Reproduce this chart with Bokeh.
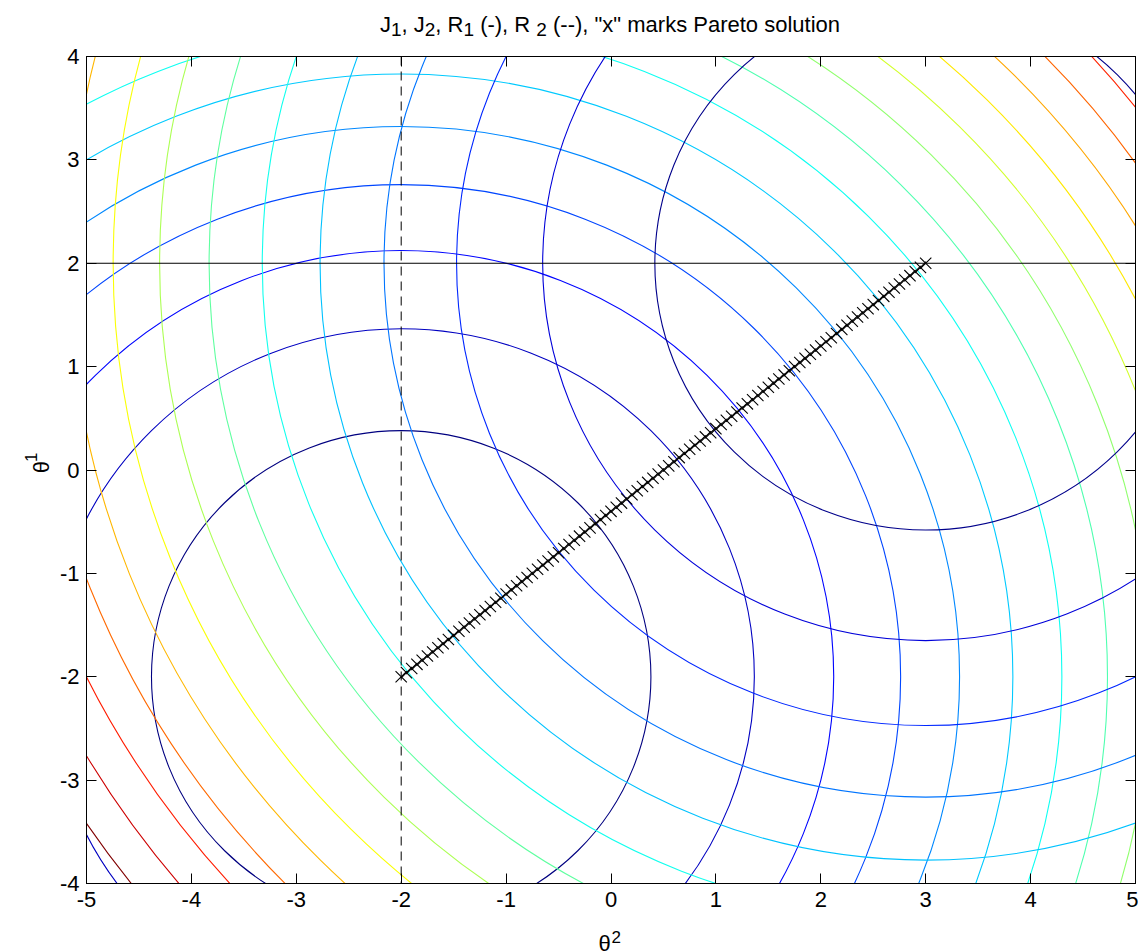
import numpy as np
from bokeh.plotting import figure
from bokeh.models import Span, FixedTicker, LinearAxis, Range1d
from bokeh.layouts import column, row
from bokeh.core.properties import value
from bokeh.embed import file_html
from bokeh.resources import INLINE

# ---------------- data ----------------
xticks = [-5, -4, -3, -2, -1, 0, 1, 2, 3, 4, 5]
xtick_labels = ["-5", "-4", "-3", "-2", "-1", "0", "1", "2", "3", "4", "5"]
yticks = [-4, -3, -2, -1, 0, 1, 2, 3, 4]
ytick_labels = ["-4", "-3", "-2", "-1", "0", "1", "2", "3", "4"]

# contour centres (theta2, theta1) and contour levels (squared radii)
j1_center = [-2.0, -2.0]
j2_center = [3.0, 2.0]
j1_levels = [5.667, 11.333, 17.0, 22.667, 28.333, 34.0, 39.667,
             45.333, 51.0, 56.667, 62.333, 68.0, 73.667, 79.333]
j2_levels = [6.667, 13.333, 20.0, 26.667, 33.333, 40.0, 46.667,
             53.333, 60.0, 66.667, 73.333, 80.0, 86.667, 93.333]

r1_theta1 = 2.0    # R1: solid horizontal line
r2_theta2 = -2.0   # R2: dashed vertical line

pareto_theta2 = [-2.00, -1.95, -1.90, -1.85, -1.80, -1.75, -1.70, -1.65, -1.60, -1.55,
                 -1.50, -1.45, -1.40, -1.35, -1.30, -1.25, -1.20, -1.15, -1.10, -1.05,
                 -1.00, -0.95, -0.90, -0.85, -0.80, -0.75, -0.70, -0.65, -0.60, -0.55,
                 -0.50, -0.45, -0.40, -0.35, -0.30, -0.25, -0.20, -0.15, -0.10, -0.05,
                 0.00, 0.05, 0.10, 0.15, 0.20, 0.25, 0.30, 0.35, 0.40, 0.45,
                 0.50, 0.55, 0.60, 0.65, 0.70, 0.75, 0.80, 0.85, 0.90, 0.95,
                 1.00, 1.05, 1.10, 1.15, 1.20, 1.25, 1.30, 1.35, 1.40, 1.45,
                 1.50, 1.55, 1.60, 1.65, 1.70, 1.75, 1.80, 1.85, 1.90, 1.95,
                 2.00, 2.05, 2.10, 2.15, 2.20, 2.25, 2.30, 2.35, 2.40, 2.45,
                 2.50, 2.55, 2.60, 2.65, 2.70, 2.75, 2.80, 2.85, 2.90, 2.95,
                 3.00]
pareto_theta1 = [-2.00, -1.96, -1.92, -1.88, -1.84, -1.80, -1.76, -1.72, -1.68, -1.64,
                 -1.60, -1.56, -1.52, -1.48, -1.44, -1.40, -1.36, -1.32, -1.28, -1.24,
                 -1.20, -1.16, -1.12, -1.08, -1.04, -1.00, -0.96, -0.92, -0.88, -0.84,
                 -0.80, -0.76, -0.72, -0.68, -0.64, -0.60, -0.56, -0.52, -0.48, -0.44,
                 -0.40, -0.36, -0.32, -0.28, -0.24, -0.20, -0.16, -0.12, -0.08, -0.04,
                 0.00, 0.04, 0.08, 0.12, 0.16, 0.20, 0.24, 0.28, 0.32, 0.36,
                 0.40, 0.44, 0.48, 0.52, 0.56, 0.60, 0.64, 0.68, 0.72, 0.76,
                 0.80, 0.84, 0.88, 0.92, 0.96, 1.00, 1.04, 1.08, 1.12, 1.16,
                 1.20, 1.24, 1.28, 1.32, 1.36, 1.40, 1.44, 1.48, 1.52, 1.56,
                 1.60, 1.64, 1.68, 1.72, 1.76, 1.80, 1.84, 1.88, 1.92, 1.96,
                 2.00]

# title pieces: (text, is_subscript)
title_pieces = [("J", False), ("1", True), (", J", False), ("2", True), (", R", False),
                ("1", True), (" (-), R ", False), ("2", True),
                (' (--), "x" marks Pareto solution', False)]
xlabel_pieces = ["θ", "2"]
ylabel_pieces = ["θ", "1"]

# ---------------- styling / layout ----------------
FONT = "Liberation Sans"
TOTAL_W, TOTAL_H = 1138, 952
TITLE_H = 39
XLAB_H = 36
YLAB_W = 56
MAIN_W = TOTAL_W - YLAB_W
MAIN_H = TOTAL_H - TITLE_H - XLAB_H
FRAME_L, FRAME_R, FRAME_T, FRAME_B = 84, 1135, 56, 883   # page pixels

# Arial / Liberation Sans advance widths (per 1000 em)
AW = {"J": 500, ",": 278, " ": 278, "R": 722, "(": 333, ")": 333, "-": 333, '"': 355,
      "x": 500, "m": 833, "a": 556, "r": 333, "k": 500, "s": 500, "P": 667, "e": 556,
      "t": 278, "o": 556, "l": 222, "u": 556, "i": 222, "n": 556}
for d in "0123456789":
    AW[d] = 556


def tw(s, fs):
    return sum(AW.get(c, 556) for c in s) / 1000.0 * fs


def jet(t):
    t = min(max(t, 0.0), 1.0)
    r = min(max(1.5 - abs(4 * t - 3), 0), 1)
    g = min(max(1.5 - abs(4 * t - 2), 0), 1)
    b = min(max(1.5 - abs(4 * t - 1), 0), 1)
    return "#%02x%02x%02x" % (int(round(r * 255)), int(round(g * 255)), int(round(b * 255)))


def text_fig(w, h, flip=True):
    f = figure(width=w, height=h, x_range=Range1d(0, w),
               y_range=Range1d(h, 0) if flip else Range1d(0, h),
               output_backend="svg", toolbar_location=None, min_border=0,
               min_border_left=0, min_border_right=0, min_border_top=0, min_border_bottom=0,
               x_axis_location=None, y_axis_location=None)
    f.outline_line_color = None
    f.xgrid.visible = False
    f.ygrid.visible = False
    f.background_fill_color = "white"
    f.border_fill_color = "white"
    return f


# ---------------- main plot ----------------
p = figure(width=MAIN_W, height=MAIN_H, x_range=Range1d(-5, 5), y_range=Range1d(-4, 4),
           output_backend="svg", toolbar_location=None,
           min_border_left=FRAME_L - YLAB_W, min_border_right=TOTAL_W - FRAME_R,
           min_border_top=FRAME_T - TITLE_H, min_border_bottom=TITLE_H + MAIN_H - FRAME_B)
p.title.text = ""
p.xgrid.visible = False
p.ygrid.visible = False
p.outline_line_color = "black"
p.outline_line_width = 1
p.background_fill_color = "white"
p.border_fill_color = "white"

# contours
all_levels = j1_levels + j2_levels
lmin, lmax = min(all_levels), max(all_levels)
for center, levels in ((j1_center, j1_levels), (j2_center, j2_levels)):
    diam = [2 * np.sqrt(L) for L in levels]
    cols = [jet((L - lmin) / (lmax - lmin)) for L in levels]
    p.ellipse(x=[center[0]] * len(levels), y=[center[1]] * len(levels),
              width=diam, height=diam, fill_color=None,
              line_color=cols, line_width=1.1)

# R1, R2
p.add_layout(Span(location=r1_theta1, dimension="width", line_color="black", line_width=1))
p.add_layout(Span(location=r2_theta2, dimension="height", line_color="black",
                  line_width=1, line_dash="9 6"))

# Pareto solutions
p.scatter(x=pareto_theta2, y=pareto_theta1, marker="x", size=16,
          line_color="black", line_width=1.1)

# axes
for ax, ticks, labels in ((p.xaxis[0], xticks, xtick_labels), (p.yaxis[0], yticks, ytick_labels)):
    ax.ticker = FixedTicker(ticks=ticks)
    ax.major_label_overrides = {t: l for t, l in zip(ticks, labels)}
    ax.major_tick_in = 10
    ax.major_tick_out = 0
    ax.minor_tick_line_color = None
    ax.major_label_text_font = FONT
    ax.major_label_text_font_size = "22px"
    ax.major_label_text_color = "black"
    ax.axis_line_color = "black"
    ax.major_tick_line_color = "black"
p.xaxis[0].major_label_standoff = 8
p.yaxis[0].major_label_standoff = 7

for loc, ticks in (("above", xticks), ("right", yticks)):
    ax = LinearAxis(ticker=FixedTicker(ticks=ticks), major_tick_in=10, major_tick_out=0,
                    minor_tick_line_color=None, major_label_text_font_size="1px",
                    major_label_text_color=None, major_label_standoff=0,
                    axis_line_color="black", major_tick_line_color="black")
    p.add_layout(ax, loc)

# ---------------- title ----------------
FS_MAIN, FS_SUB = 22, 19
tf = text_fig(TOTAL_W, TITLE_H)
total = sum(tw(s, FS_SUB if sub else FS_MAIN) for s, sub in title_pieces)
cur = (FRAME_L + FRAME_R) / 2 - total / 2
tx, ty, tt, tfs = [], [], [], []
for s, sub in title_pieces:
    fs = FS_SUB if sub else FS_MAIN
    lead = len(s) - len(s.lstrip(" "))
    tx.append(cur + lead * tw(" ", fs))
    ty.append(29 if sub else 24)
    tt.append(s.strip())
    tfs.append("%dpx" % fs)
    cur += tw(s, fs)
tf.text(x=tx, y=ty, text=tt, text_font=value(FONT), text_font_size=tfs,
        text_align="left", text_baseline="alphabetic", text_color="black")

# ---------------- x label ----------------
XOFF = TITLE_H + MAIN_H
xf = text_fig(TOTAL_W, XLAB_H)
xf.text(x=[598, 611], y=[943 - XOFF, 936 - XOFF], text=xlabel_pieces,
        text_font=value(FONT), text_font_size=["22px", "17px"],
        text_align="left", text_baseline="alphabetic", text_color="black")

# ---------------- y label (rotated, reading upward) ----------------
yf = text_fig(YLAB_W, MAIN_H, flip=False)
yf.text(x=[41, 30], y=[MAIN_H - (481 - TITLE_H), MAIN_H - (469 - TITLE_H)], text=ylabel_pieces,
        text_font=value(FONT), text_font_size=["22px", "17px"], angle=np.pi / 2,
        text_align="left", text_baseline="alphabetic", text_color="black")

layout = column(tf, row(yf, p), xf)
open("out.html", "w").write(file_html(layout, INLINE))
